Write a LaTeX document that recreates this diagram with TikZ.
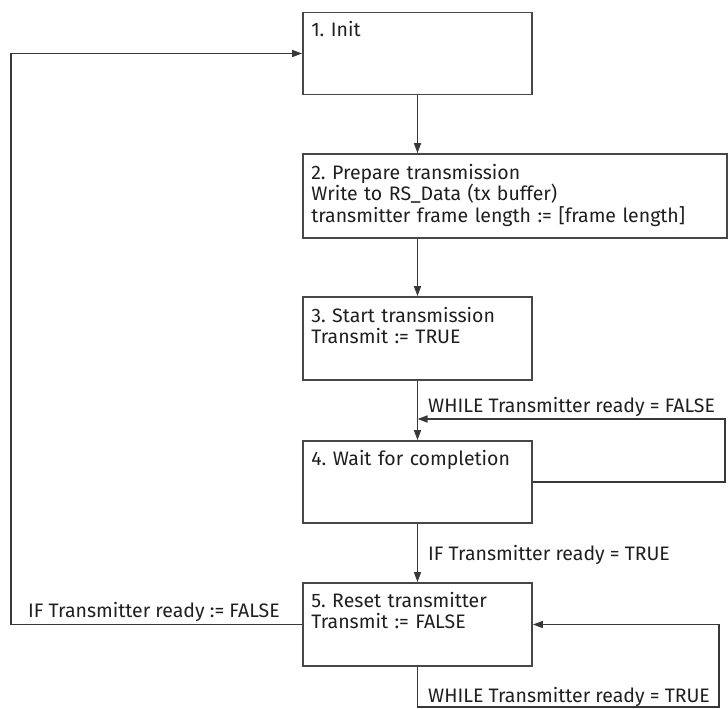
\documentclass[tikz,border=0pt]{standalone}
\usepackage{fontspec}
\setmainfont{Fira Sans}[Ligatures=CommonOff]
\usetikzlibrary{arrows.meta,positioning}
\frenchspacing

\begin{document}
\begin{tikzpicture}[x=1pt,y=-1pt,
stepbox/.style={draw=black!72,line width=1.8pt,minimum width=229pt,minimum height=82pt,inner sep=0pt},
steptext/.style={anchor=base west,inner sep=0pt,align=left,text width=410pt,font=\fontsize{19.5}{21.5}\selectfont,text=black!88},
cond/.style={anchor=base west,inner sep=0pt,font=\fontsize{19.5}{21.5}\selectfont,text=black!88},
flow/.style={-{Triangle[length=10pt,width=7pt]},line width=1.6pt,draw=black!78}]
\useasboundingbox (0,0) rectangle (728,709);
\node[stepbox] (s1) at (417.5,53.5) {};
\node[stepbox,minimum width=424pt,minimum height=84pt] (s2) at (515,196) {};
\node[stepbox,minimum height=83pt] (s3) at (417.5,338.5) {};
\node[stepbox] (s4) at (417.5,482) {};
\node[stepbox,minimum height=83pt] (s5) at (417.5,624.5) {};
\node[steptext] (t1) at ([xshift=9pt,yshift=-25pt]s1.north west) {1. Init};
\node[steptext] (t2) at ([xshift=9pt,yshift=-26pt]s2.north west) {2. Prepare transmission\\Write to RS\_Data (tx buffer)\\transmitter frame length := [frame length]};
\node[steptext] (t3) at ([xshift=9pt,yshift=-26pt]s3.north west) {3. Start transmission\\Transmit := TRUE};
\node[steptext] (t4) at ([xshift=9pt,yshift=-25pt]s4.north west) {4. Wait for completion};
\node[steptext] (t5) at ([xshift=9pt,yshift=-25pt]s5.north west) {5. Reset transmitter\\Transmit := FALSE};
\coordinate (w1) at (11,53.5);
\coordinate (w4) at (725,419);
\coordinate (w5) at (719,707);
\draw[flow] (s1.south) -- (s1.south |- s2.north);
\draw[flow] (s3.south |- s2.south) -- (s3.north);
\draw[flow] (s3.south) -- (s4.north);
\draw[flow] (s4.south) -- (s5.north);
\draw[flow] (s4.east) -| (w4) -- (s3.south |- w4);
\draw[flow] (s5.south) |- (w5) |- (s5.east);
\draw[flow] (s5.west) -| (w1) -- (s1.west);
\node[cond] (c1) at (428,412) {WHILE Transmitter ready = FALSE};
\node[cond] (c2) at (428,560) {IF Transmitter ready = TRUE};
\node[cond] (c3) at (28,617) {IF Transmitter ready := FALSE};
\node[cond] (c4) at (428,702) {WHILE Transmitter ready = TRUE};
\end{tikzpicture}
\end{document}
